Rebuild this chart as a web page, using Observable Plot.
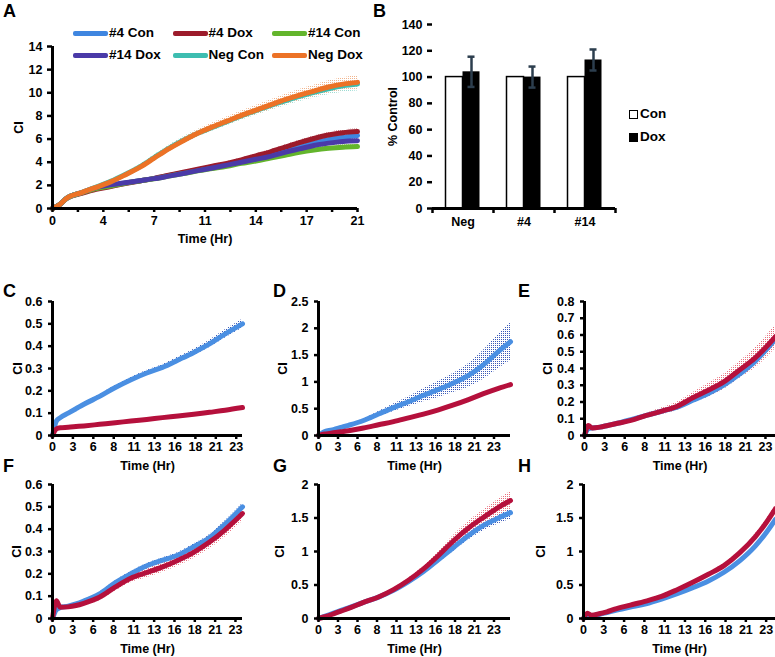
<!DOCTYPE html>
<html><head><meta charset="utf-8">
<script src="https://cdn.jsdelivr.net/npm/d3@7"></script>
<script src="https://cdn.jsdelivr.net/npm/@observablehq/plot@0.6"></script>
<style>
body{margin:0;background:#fff;overflow:hidden}
#root{position:relative;width:775px;height:657px;font-family:"Liberation Sans",Arial,sans-serif;font-weight:bold;color:#000}
.panel{position:absolute}
.letter{position:absolute;font-size:18px;font-weight:bold;line-height:18px}
.leg{position:absolute;font-size:13.5px;font-weight:bold;line-height:14px;display:flex;align-items:center;white-space:nowrap}
.sw{display:inline-block;width:35px;height:5px;border-radius:2px;margin-right:1px}
.sq{display:inline-block;width:9px;height:9px;margin-right:2px;box-sizing:border-box}
</style></head><body><div id="root"></div>
<script>
// ---------------- Panel A data ----------------
const seriesA = ["#4 Con", "#4 Dox", "#14 Con", "#14 Dox", "Neg Con", "Neg Dox"];
const colorsA = ["#3f86e0", "#9c1b2b", "#63b52c", "#4a3aa8", "#3dbdb0", "#ec7226"];
const errColorsA = ["#a9c8f0", "#d08a92", "#b5dc98", "#9a90d8", "#9adcd4", "#f2b48c"];
const timeA = [0, 0.5, 1, 2, 3, 4, 5, 6, 7, 8, 9, 10, 11, 12, 13, 14, 15, 16, 17, 18, 19, 20, 21];
const a4Con  = [0, 0.35, 0.9, 1.35, 1.72, 1.95, 2.2, 2.4, 2.6, 2.85, 3.1, 3.33, 3.55, 3.8, 4.05, 4.3, 4.6, 4.95, 5.3, 5.65, 5.95, 6.15, 6.3];
const a4Dox  = [0, 0.35, 0.9, 1.3, 1.65, 1.9, 2.15, 2.38, 2.6, 2.87, 3.13, 3.4, 3.65, 3.9, 4.2, 4.55, 4.9, 5.3, 5.7, 6.05, 6.35, 6.55, 6.65];
const a14Con = [0, 0.35, 0.9, 1.35, 1.72, 1.95, 2.18, 2.38, 2.57, 2.8, 3.02, 3.25, 3.45, 3.65, 3.9, 4.1, 4.35, 4.6, 4.85, 5.05, 5.2, 5.3, 5.35];
const a14Dox = [0, 0.35, 0.9, 1.38, 1.8, 2.05, 2.22, 2.4, 2.58, 2.8, 3.03, 3.27, 3.5, 3.75, 4.0, 4.25, 4.5, 4.85, 5.15, 5.45, 5.65, 5.8, 5.85];
const aNegCon = [0, 0.35, 0.9, 1.38, 1.85, 2.35, 2.95, 3.6, 4.4, 5.2, 5.9, 6.5, 7.0, 7.5, 8.0, 8.45, 8.9, 9.3, 9.7, 10.05, 10.35, 10.6, 10.75];
const aNegDox = [0, 0.35, 0.9, 1.38, 1.82, 2.3, 2.9, 3.55, 4.35, 5.15, 5.85, 6.5, 7.05, 7.55, 8.05, 8.5, 8.95, 9.4, 9.8, 10.15, 10.5, 10.75, 10.9];
const errLowA = [0, 0.03, 0.05, 0.06, 0.07, 0.08, 0.09, 0.1, 0.1, 0.11, 0.12, 0.13, 0.14, 0.15, 0.16, 0.17, 0.18, 0.19, 0.2, 0.21, 0.22, 0.23, 0.24];
const errNegA = [0, 0.05, 0.08, 0.1, 0.12, 0.14, 0.16, 0.18, 0.22, 0.25, 0.28, 0.3, 0.33, 0.35, 0.38, 0.4, 0.43, 0.45, 0.48, 0.5, 0.53, 0.56, 0.6];
const valuesA = [a4Con, a4Dox, a14Con, a14Dox, aNegCon, aNegDox];
const errorsA = [errLowA, errLowA, errLowA, errLowA, errNegA, errNegA];
const tickLabelsA = ["0", "4", "7", "11", "14", "17", "21"];
const yTicksA = [0, 2, 4, 6, 8, 10, 12, 14];

// ---------------- Panel B data ----------------
const groupsB = ["Neg", "#4", "#14"];
const conB = [100, 100, 100];
const doxB = [104, 100, 113];
const doxErrB = [11.5, 8, 8];
const yTicksB = [0, 20, 40, 60, 80, 100, 120, 140];

// ---------------- Panels C-H data ----------------
const tickLabelsCH = ["0", "3", "6", "8", "11", "13", "16", "18", "21", "23"];
const colorCon = "#4a8fe2", colorDox = "#b5103c";
const errColorCon = "#3a58b8", errColorDox = "#e8707e";

const tC = [0, 0.5, 1, 2, 3, 4, 6, 8, 10, 12, 14, 16, 18, 20, 22, 24.2];
const cCon = [0, 0.065, 0.08, 0.1, 0.12, 0.14, 0.175, 0.215, 0.25, 0.28, 0.305, 0.338, 0.372, 0.41, 0.455, 0.5];
const cDox = [0, 0.03, 0.035, 0.037, 0.04, 0.043, 0.05, 0.057, 0.065, 0.072, 0.08, 0.087, 0.095, 0.104, 0.113, 0.125];
const cConErr = [0, 0.005, 0.005, 0.005, 0.006, 0.007, 0.008, 0.009, 0.01, 0.011, 0.012, 0.013, 0.014, 0.016, 0.018, 0.02];
const cDoxErr = [0, 0.003, 0.003, 0.003, 0.003, 0.003, 0.003, 0.004, 0.004, 0.004, 0.004, 0.004, 0.005, 0.005, 0.005, 0.005];

const tD = [0, 0.5, 1, 2, 3, 4, 6, 8, 10, 12, 14, 16, 18, 20, 22, 24, 25.6];
const dCon = [0, 0.05, 0.08, 0.11, 0.15, 0.19, 0.28, 0.4, 0.52, 0.63, 0.75, 0.86, 0.98, 1.12, 1.32, 1.57, 1.75];
const dDox = [0, 0.02, 0.03, 0.05, 0.07, 0.09, 0.14, 0.2, 0.26, 0.33, 0.4, 0.48, 0.57, 0.67, 0.78, 0.88, 0.95];
const dConErr = [0, 0.01, 0.01, 0.02, 0.02, 0.02, 0.03, 0.05, 0.07, 0.09, 0.12, 0.15, 0.18, 0.22, 0.27, 0.32, 0.35];
const dDoxErr = [0, 0.005, 0.005, 0.01, 0.01, 0.01, 0.01, 0.01, 0.015, 0.015, 0.015, 0.02, 0.02, 0.02, 0.02, 0.02, 0.02];

const tE = [0, 0.5, 1, 2, 3, 4, 6, 8, 10, 12, 14, 16, 18, 20, 22, 24.7];
const eCon = [0, 0.04, 0.045, 0.05, 0.06, 0.07, 0.095, 0.12, 0.145, 0.17, 0.21, 0.25, 0.3, 0.365, 0.44, 0.575];
const eDox = [0, 0.06, 0.045, 0.05, 0.06, 0.07, 0.09, 0.12, 0.145, 0.175, 0.225, 0.27, 0.32, 0.39, 0.46, 0.59];
const eConErr = [0, 0.005, 0.005, 0.005, 0.005, 0.006, 0.008, 0.01, 0.012, 0.015, 0.018, 0.02, 0.022, 0.025, 0.028, 0.03];
const eDoxErr = [0, 0.005, 0.005, 0.005, 0.006, 0.008, 0.01, 0.012, 0.02, 0.025, 0.03, 0.04, 0.045, 0.05, 0.06, 0.07];

const tF = [0, 0.5, 0.8, 1, 2, 3, 4, 6, 8, 10, 12, 14, 16, 18, 20, 22, 24.3];
const fCon = [0, 0.04, 0.045, 0.05, 0.055, 0.065, 0.078, 0.11, 0.16, 0.2, 0.235, 0.26, 0.283, 0.32, 0.36, 0.42, 0.5];
const fDox = [0, 0.08, 0.06, 0.05, 0.052, 0.058, 0.068, 0.095, 0.14, 0.18, 0.205, 0.23, 0.26, 0.295, 0.34, 0.395, 0.47];
const fConErr = [0, 0.004, 0.004, 0.004, 0.005, 0.005, 0.006, 0.007, 0.008, 0.009, 0.01, 0.01, 0.011, 0.012, 0.013, 0.014, 0.015];
const fDoxErr = [0, 0.01, 0.01, 0.008, 0.008, 0.01, 0.012, 0.015, 0.018, 0.02, 0.022, 0.024, 0.026, 0.028, 0.03, 0.032, 0.035];

const tG = [0, 1, 2, 3, 4, 6, 8, 10, 12, 14, 16, 18, 20, 22, 24, 25.6];
const gCon = [0, 0.04, 0.08, 0.12, 0.16, 0.24, 0.32, 0.42, 0.55, 0.7, 0.88, 1.06, 1.24, 1.39, 1.5, 1.58];
const gDox = [0, 0.03, 0.07, 0.11, 0.15, 0.24, 0.32, 0.43, 0.57, 0.74, 0.94, 1.16, 1.35, 1.51, 1.66, 1.76];
const gConErr = [0, 0.005, 0.01, 0.01, 0.01, 0.015, 0.02, 0.025, 0.03, 0.04, 0.05, 0.06, 0.07, 0.08, 0.09, 0.1];
const gDoxErr = [0, 0.005, 0.01, 0.01, 0.01, 0.015, 0.02, 0.025, 0.03, 0.04, 0.06, 0.08, 0.1, 0.11, 0.12, 0.13];

const tH = [0, 0.5, 1, 2, 3, 4, 6, 8, 10, 12, 14, 16, 18, 20, 22, 23.4, 24.6];
const hCon = [0, 0.06, 0.04, 0.06, 0.09, 0.12, 0.17, 0.22, 0.29, 0.37, 0.46, 0.56, 0.69, 0.86, 1.08, 1.28, 1.48];
const hDox = [0, 0.08, 0.05, 0.07, 0.1, 0.14, 0.2, 0.26, 0.33, 0.43, 0.54, 0.66, 0.79, 0.98, 1.22, 1.43, 1.64];
const hConErr = [0, 0.01, 0.01, 0.01, 0.01, 0.01, 0.01, 0.01, 0.012, 0.014, 0.016, 0.018, 0.02, 0.022, 0.025, 0.028, 0.03];
const hDoxErr = [0, 0.01, 0.01, 0.01, 0.01, 0.01, 0.012, 0.014, 0.016, 0.018, 0.02, 0.025, 0.03, 0.035, 0.04, 0.045, 0.05];

// ---------------- helpers ----------------
const root = document.getElementById("root");
const FONT = {fontFamily: "'Liberation Sans', Arial, sans-serif", fontWeight: "bold", fontSize: "12.5px", background: "transparent", overflow: "visible"};
const num = d => String(+d.toFixed(2));

// hatch patterns for error whiskers
const NS = "http://www.w3.org/2000/svg";
const defsSvg = document.createElementNS(NS, "svg");
defsSvg.setAttribute("width", 0); defsSvg.setAttribute("height", 0);
defsSvg.style.position = "absolute";
const defs = document.createElementNS(NS, "defs");
defsSvg.appendChild(defs);
document.body.appendChild(defsSvg);
const patIds = {};
function pattern(color) {
  if (patIds[color]) return patIds[color];
  const id = "pat" + Object.keys(patIds).length;
  const p = document.createElementNS(NS, "pattern");
  p.setAttribute("id", id); p.setAttribute("patternUnits", "userSpaceOnUse");
  p.setAttribute("width", 2); p.setAttribute("height", 2);
  const r = document.createElementNS(NS, "rect");
  r.setAttribute("x", 0); r.setAttribute("y", 0); r.setAttribute("width", 1); r.setAttribute("height", 1);
  r.setAttribute("fill", color);
  p.appendChild(r); defs.appendChild(p);
  patIds[color] = "url(#" + id + ")";
  return patIds[color];
}

function place(el, left, top) {
  el.classList.add("panel");
  el.style.left = left + "px"; el.style.top = top + "px";
  root.appendChild(el);
}
function letter(txt, left, top) {
  const d = document.createElement("div");
  d.className = "letter"; d.textContent = txt;
  d.style.left = left + "px"; d.style.top = top + "px";
  root.appendChild(d);
}

// ---------------- Panel A ----------------
const rowsA = [];
seriesA.forEach((s, k) => timeA.forEach((t, i) => rowsA.push({s, k, t, v: valuesA[k][i], e: errorsA[k][i]})));
const stepA = 21 / (tickLabelsA.length - 1);
const xTicksA = d3.range(0, 2 * tickLabelsA.length - 1).map(i => i * stepA / 2);
const plotA = Plot.plot({
  width: 367, height: 228, marginLeft: 52, marginRight: 10, marginTop: 26, marginBottom: 40,
  style: FONT,
  x: {domain: [0, 21]},
  y: {domain: [0, 14]},
  marks: [
    ...seriesA.map((s, k) => Plot.areaY(rowsA.filter(r => r.k === k), {x: "t", y1: r => r.v - r.e, y2: r => r.v + r.e, fill: pattern(errColorsA[k]), curve: "monotone-x"})),
    ...seriesA.map((s, k) => Plot.lineY(rowsA.filter(r => r.k === k), {x: "t", y: "v", stroke: colorsA[k], strokeWidth: 5, curve: "monotone-x"})),
    Plot.axisY({ticks: yTicksA, tickFormat: num, tickSize: 5, tickPadding: 5, strokeWidth: 2.5, label: "CI", labelAnchor: "center", labelOffset: 38, labelArrow: "none"}),
    Plot.axisX({ticks: xTicksA, tickFormat: (d, i) => i % 2 === 0 ? tickLabelsA[i / 2] : "", tickSize: 4, tickPadding: 4, strokeWidth: 2.5, label: "Time (Hr)", labelAnchor: "center", labelOffset: 34, labelArrow: "none"}),
    Plot.ruleX([0], {y1: 0, y2: 14, strokeWidth: 3}),
    Plot.ruleY([0], {strokeWidth: 3})
  ]
});
place(plotA, 0, 20);
letter("A", 3, 2);
// legend A
seriesA.forEach((s, k) => {
  const d = document.createElement("div");
  d.className = "leg";
  d.style.left = (73 + (k % 3) * 99.5) + "px";
  d.style.top = (k < 3 ? 26 : 48) + "px";
  d.innerHTML = `<span class="sw" style="background:${colorsA[k]}"></span>${s}`;
  root.appendChild(d);
});

// ---------------- Panel B ----------------
const rowsB = groupsB.map((g, i) => ({g, con: conB[i], dox: doxB[i], err: doxErrB[i]}));
const plotB = Plot.plot({
  width: 260, height: 228, marginLeft: 62, marginRight: 15, marginTop: 14, marginBottom: 30,
  style: FONT,
  x: {domain: groupsB, type: "band", paddingInner: 0.72, paddingOuter: 0.36},
  y: {domain: [0, 140]},
  marks: [
    Plot.barY(rowsB, {x: "g", y: "con", fill: "white", stroke: "black", strokeWidth: 1.5, dx: -8.5}),
    Plot.barY(rowsB, {x: "g", y: "dox", fill: "black", dx: 8.5}),
    Plot.ruleX(rowsB, {x: "g", y1: d => d.dox - d.err, y2: d => d.dox + d.err, stroke: "#2c3e4e", strokeWidth: 2.5, dx: 8.5}),
    Plot.tickY(rowsB, {x: "g", y: d => d.dox + d.err, stroke: "#2c3e4e", strokeWidth: 2.5, dx: 8.5, insetLeft: 5, insetRight: 5}),
    Plot.tickY(rowsB, {x: "g", y: d => d.dox - d.err, stroke: "#2c3e4e", strokeWidth: 2.5, dx: 8.5, insetLeft: 5, insetRight: 5}),
    Plot.axisY({ticks: yTicksB, tickFormat: num, tickSize: 5, tickPadding: 5, strokeWidth: 2.5, label: "% Control", labelAnchor: "center", labelOffset: 44, labelArrow: "none"}),
    Plot.axisX({tickSize: 0, tickPadding: 9, label: null}),
    Plot.ruleX(rowsB, {x: "g", y1: 0, y2: 0, dx: -30.5, insetBottom: -5, strokeWidth: 2.5}),
    Plot.ruleX(rowsB.slice(-1), {x: "g", y1: 0, y2: 0, dx: 30.5, insetBottom: -5, strokeWidth: 2.5}),
    Plot.ruleX([0], {frameAnchor: "left", y1: 0, y2: 140, strokeWidth: 3}),
    Plot.ruleY([0], {strokeWidth: 3})
  ]
});
place(plotB, 370, 10);
letter("B", 373, 2);
[["Con", "white"], ["Dox", "black"]].forEach(([n, f], i) => {
  const d = document.createElement("div");
  d.className = "leg";
  d.style.left = "629px"; d.style.top = (107 + i * 23) + "px";
  d.innerHTML = `<span class="sq" style="background:${f};border:1.5px solid #000"></span>${n}`;
  root.appendChild(d);
});

// ---------------- Panels C-H ----------------
function timePanel({t, con, dox, conErr, doxErr, xmax, ymax, yTicks, width, mLeft, mRight, left, top, lx}) {
  const rows = [];
  t.forEach((tt, i) => {
    rows.push({s: "Con", t: tt, v: con[i], e: conErr[i]});
    rows.push({s: "Dox", t: tt, v: dox[i], e: doxErr[i]});
  });
  const con_ = rows.filter(r => r.s === "Con"), dox_ = rows.filter(r => r.s === "Dox");
  const step = 23.4 / (tickLabelsCH.length - 1);
  const xt = tickLabelsCH.map((_, i) => i * step);
  const p = Plot.plot({
    width, height: 190, marginLeft: mLeft, marginRight: mRight, marginTop: 16, marginBottom: 40,
    style: FONT,
    x: {domain: [0, xmax]},
    y: {domain: [0, ymax]},
    marks: [
      Plot.areaY(con_, {x: "t", y1: r => r.v - r.e, y2: r => r.v + r.e, fill: pattern(errColorCon), curve: "monotone-x"}),
      Plot.areaY(dox_, {x: "t", y1: r => r.v - r.e, y2: r => r.v + r.e, fill: pattern(errColorDox), curve: "monotone-x"}),
      Plot.lineY(con_, {x: "t", y: "v", stroke: colorCon, strokeWidth: 5, curve: "monotone-x"}),
      Plot.lineY(dox_, {x: "t", y: "v", stroke: colorDox, strokeWidth: 5, curve: "monotone-x"}),
      Plot.axisY({ticks: yTicks, tickFormat: num, tickSize: 4, tickPadding: 6, strokeWidth: 2.5, label: "CI", labelAnchor: "center", labelOffset: lx, labelArrow: "none"}),
      Plot.axisX({ticks: xt, tickFormat: (d, i) => tickLabelsCH[i], tickSize: 4, tickPadding: 3, strokeWidth: 2.5, label: "Time (Hr)", labelAnchor: "center", labelOffset: 34, labelArrow: "none"}),
      Plot.ruleX([0], {y1: 0, y2: ymax, strokeWidth: 3}),
      Plot.ruleY([0], {strokeWidth: 3})
    ]
  });
  place(p, left, top);
}
const yC = [0, 0.1, 0.2, 0.3, 0.4, 0.5, 0.6];
const yD = [0, 0.5, 1, 1.5, 2, 2.5];
const yE = [0, 0.1, 0.2, 0.3, 0.4, 0.5, 0.6, 0.7, 0.8];
const yG = [0, 0.5, 1, 1.5, 2];

timePanel({t: tC, con: cCon, dox: cDox, conErr: cConErr, doxErr: cDoxErr, xmax: 24.2, ymax: 0.6, yTicks: yC, width: 250, mLeft: 52, mRight: 8, left: 0, top: 285, lx: 39});
timePanel({t: tD, con: dCon, dox: dDox, conErr: dConErr, doxErr: dDoxErr, xmax: 25.6, ymax: 2.5, yTicks: yD, width: 260, mLeft: 63, mRight: 5, left: 255, top: 285, lx: 40});
timePanel({t: tE, con: eCon, dox: eDox, conErr: eConErr, doxErr: eDoxErr, xmax: 24.7, ymax: 0.8, yTicks: yE, width: 260, mLeft: 69, mRight: 0, left: 515, top: 285, lx: 41});
timePanel({t: tF, con: fCon, dox: fDox, conErr: fConErr, doxErr: fDoxErr, xmax: 24.3, ymax: 0.6, yTicks: yC, width: 250, mLeft: 52, mRight: 8, left: 0, top: 468, lx: 40});
timePanel({t: tG, con: gCon, dox: gDox, conErr: gConErr, doxErr: gDoxErr, xmax: 25.6, ymax: 2, yTicks: yG, width: 260, mLeft: 63, mRight: 5, left: 255, top: 468, lx: 43});
timePanel({t: tH, con: hCon, dox: hDox, conErr: hConErr, doxErr: hDoxErr, xmax: 24.6, ymax: 2, yTicks: yG, width: 260, mLeft: 68, mRight: 0, left: 515, top: 468, lx: 47});

letter("C", 3, 282); letter("D", 273, 282); letter("E", 518, 282);
letter("F", 3, 457); letter("G", 273, 457); letter("H", 518, 457);
</script>
</body></html>
